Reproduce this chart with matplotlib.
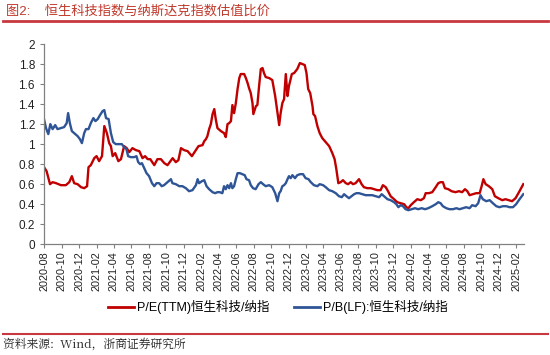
import numpy as np
import pandas as pd
import matplotlib
matplotlib.use('Agg')
import matplotlib.pyplot as plt
from matplotlib.lines import Line2D

plt.rcParams['font.family'] = ['Liberation Sans', 'Noto Sans CJK SC']
plt.rcParams['axes.unicode_minus'] = False

# Data (days since 2020-08-01, ratio)
Start_Date = '2020-08-01'

pe_days = [0, 9, 21, 30, 42, 59, 76, 88, 97, 105, 117, 129, 140, 150, 155, 163, 175, 183,
           192, 202, 210, 219, 227, 233, 239, 248, 259, 268, 279, 288, 297, 308, 320, 332,
           343, 352, 361, 370, 384, 395, 407, 419, 430, 448, 459, 468, 477, 488, 500, 515,
           529, 538, 552, 558, 564, 569, 575, 581, 587, 593, 598, 604, 616, 627, 633, 639,
           645, 651, 656, 662, 668, 674, 680, 685, 697, 703, 709, 714, 720, 726, 729, 738,
           743, 749, 755, 761, 766, 772, 784, 795, 805, 813, 819, 824, 830, 836, 842, 848,
           853, 863, 871, 882, 891, 900, 908, 914, 920, 927, 935, 938, 944, 952, 960, 969,
           981, 993, 1004, 1012, 1018, 1025, 1033, 1041, 1051, 1059, 1068, 1076, 1085, 1097,
           1106, 1114, 1126, 1138, 1149, 1161, 1172, 1180, 1190, 1198, 1207, 1219, 1230,
           1242, 1254, 1262, 1269, 1277, 1288, 1300, 1312, 1323, 1329, 1340, 1352, 1364,
           1373, 1381, 1389, 1396, 1408, 1419, 1433, 1445, 1456, 1466, 1474, 1482, 1494,
           1505, 1517, 1524, 1530, 1538, 1549, 1561, 1570, 1582, 1596, 1607, 1619, 1630,
           1642, 1654, 1669]
pe_ratio = [0.77, 0.73, 0.60, 0.62, 0.61, 0.59, 0.59, 0.62, 0.68, 0.61, 0.60, 0.57, 0.56,
            0.58, 0.77, 0.79, 0.86, 0.88, 0.83, 0.88, 1.18, 1.11, 1.01, 0.98, 0.88, 0.91,
            0.83, 0.85, 0.98, 0.96, 0.92, 0.96, 0.94, 0.93, 0.86, 0.88, 0.85, 0.85, 0.79,
            0.85, 0.85, 0.81, 0.79, 0.86, 0.82, 0.84, 0.96, 0.94, 0.93, 0.88, 0.94, 0.98,
            0.99, 1.03, 1.05, 1.08, 1.15, 1.20, 1.30, 1.35, 1.25, 1.16, 1.13, 1.11, 1.07,
            1.20, 1.21, 1.23, 1.39, 1.31, 1.41, 1.55, 1.66, 1.70, 1.70, 1.66, 1.61, 1.56,
            1.51, 1.41, 1.30, 1.38, 1.39, 1.58, 1.75, 1.76, 1.71, 1.67, 1.66, 1.64, 1.48,
            1.31, 1.19, 1.31, 1.41, 1.45, 1.70, 1.48, 1.58, 1.70, 1.71, 1.75, 1.81, 1.80,
            1.79, 1.71, 1.55, 1.51, 1.38, 1.30, 1.28, 1.18, 1.11, 1.06, 1.02, 0.98, 0.91,
            0.85, 0.75, 0.61, 0.62, 0.64, 0.61, 0.60, 0.62, 0.60, 0.61, 0.65, 0.60, 0.57,
            0.56, 0.56, 0.55, 0.54, 0.54, 0.59, 0.57, 0.53, 0.48, 0.45, 0.42, 0.41, 0.40,
            0.37, 0.36, 0.39, 0.42, 0.45, 0.44, 0.46, 0.51, 0.51, 0.52, 0.57, 0.61, 0.62,
            0.62, 0.56, 0.55, 0.53, 0.52, 0.53, 0.52, 0.55, 0.53, 0.49, 0.50, 0.51, 0.51,
            0.58, 0.65, 0.60, 0.58, 0.55, 0.48, 0.46, 0.44, 0.45, 0.44, 0.43, 0.46, 0.52,
            0.60]

pb_days = [0, 7, 15, 22, 30, 39, 47, 59, 70, 79, 84, 90, 97, 105, 117, 125, 132, 140, 146,
           155, 163, 172, 179, 187, 195, 204, 210, 216, 225, 233, 241, 250, 262, 271, 279,
           287, 293, 302, 314, 322, 328, 335, 341, 349, 357, 366, 376, 384, 392, 401, 410,
           418, 430, 442, 447, 459, 471, 482, 494, 505, 517, 529, 535, 540, 550, 558, 566,
           575, 587, 596, 604, 612, 621, 627, 633, 639, 645, 651, 656, 662, 668, 674, 682,
           691, 699, 705, 714, 720, 728, 737, 747, 755, 763, 772, 784, 795, 805, 813, 819,
           824, 830, 836, 842, 848, 853, 859, 865, 874, 882, 892, 902, 911, 921, 929, 940,
           952, 960, 972, 981, 993, 1004, 1016, 1027, 1037, 1045, 1053, 1062, 1071, 1080,
           1088, 1097, 1109, 1120, 1132, 1143, 1155, 1167, 1176, 1184, 1196, 1207, 1219,
           1227, 1234, 1242, 1250, 1259, 1269, 1280, 1292, 1303, 1315, 1327, 1338, 1352,
           1364, 1373, 1381, 1389, 1401, 1412, 1424, 1436, 1447, 1459, 1470, 1482, 1491,
           1503, 1512, 1520, 1528, 1540, 1552, 1563, 1575, 1586, 1598, 1610, 1621, 1633,
           1644, 1656, 1669]
pb_ratio = [1.25, 1.16, 1.10, 1.20, 1.15, 1.19, 1.15, 1.16, 1.17, 1.21, 1.31, 1.21, 1.13,
            1.11, 1.08, 1.05, 1.01, 1.11, 1.15, 1.15, 1.21, 1.26, 1.23, 1.25, 1.29, 1.33,
            1.34, 1.26, 1.25, 1.11, 1.02, 1.00, 1.00, 1.00, 0.97, 0.95, 0.88, 0.87, 0.87,
            0.88, 0.82, 0.80, 0.81, 0.76, 0.71, 0.68, 0.61, 0.58, 0.61, 0.61, 0.58, 0.59,
            0.62, 0.65, 0.61, 0.60, 0.58, 0.58, 0.56, 0.53, 0.54, 0.59, 0.65, 0.61, 0.63,
            0.64, 0.58, 0.55, 0.52, 0.51, 0.52, 0.52, 0.51, 0.58, 0.55, 0.59, 0.56, 0.61,
            0.56, 0.58, 0.65, 0.71, 0.71, 0.70, 0.69, 0.65, 0.64, 0.59, 0.56, 0.55, 0.60,
            0.62, 0.60, 0.58, 0.59, 0.57, 0.51, 0.43, 0.51, 0.53, 0.58, 0.59, 0.61, 0.65,
            0.68, 0.66, 0.69, 0.66, 0.69, 0.70, 0.70, 0.66, 0.65, 0.62, 0.59, 0.58, 0.60,
            0.59, 0.57, 0.54, 0.53, 0.51, 0.48, 0.47, 0.50, 0.48, 0.46, 0.48, 0.50, 0.51,
            0.51, 0.50, 0.49, 0.49, 0.49, 0.48, 0.47, 0.50, 0.48, 0.45, 0.44, 0.42, 0.40,
            0.37, 0.39, 0.38, 0.35, 0.34, 0.35, 0.36, 0.35, 0.36, 0.35, 0.36, 0.38, 0.40,
            0.42, 0.41, 0.38, 0.36, 0.35, 0.35, 0.36, 0.35, 0.36, 0.37, 0.36, 0.39, 0.38,
            0.41, 0.49, 0.45, 0.43, 0.44, 0.41, 0.38, 0.37, 0.38, 0.38, 0.37, 0.37, 0.40,
            0.45, 0.50]

pe_label = 'P/E(TTM)恒生科技/纳指'
pb_label = 'P/B(LF):恒生科技/纳指'
title_text = '图2:    恒生科技指数与纳斯达克指数估值比价'
source_text = '资料来源:  Wind，浙商证券研究所'

# Colours
Red = '#C00000'
Blue = '#2F5597'
Rule_Red = '#C8383F'

start = pd.Timestamp(Start_Date)
pe_dates = start + pd.to_timedelta(pe_days, unit='D')
pb_dates = start + pd.to_timedelta(pb_days, unit='D')

figure = plt.figure(figsize=(5.5, 3.55), dpi=100)
axes = figure.add_axes([0.08, 0.312, 0.873, 0.564])

axes.plot(pe_dates, pe_ratio, color=Red, linewidth=1.7)
axes.plot(pb_dates, pb_ratio, color=Blue, linewidth=1.7)

axes.set_ylim(0, 2)
axes.set_yticks(np.arange(0, 2.01, 0.2))
axes.set_yticklabels(['0', '0.2', '0.4', '0.6', '0.8', '1', '1.2', '1.4', '1.6', '1.8', '2'])
axes.set_xlim(pe_dates[0], pe_dates[-1] + pd.Timedelta(days=3))

tick_months = pd.date_range('2020-08-01', '2025-02-01', freq='2MS')
axes.set_xticks(tick_months)
axes.set_xticklabels([d.strftime('%Y-%m') for d in tick_months], rotation=90)

for side in ['top', 'right']:
    axes.spines[side].set_visible(False)
for side in ['left', 'bottom']:
    axes.spines[side].set_color('#808080')
    axes.spines[side].set_linewidth(0.9)

axes.tick_params(axis='both', direction='out', color='#808080', length=3, labelsize=8.5,
                 labelcolor='#222222')
axes.tick_params(axis='x', pad=2, labelsize=7.8)

handles = [Line2D([], [], color=Red, linewidth=2),
           Line2D([], [], color=Blue, linewidth=2)]
figure.legend(handles, [pe_label, pb_label], loc='center', bbox_to_anchor=(0.505, 0.135),
              ncol=2, frameon=False, fontsize=9, handlelength=2.1, handletextpad=0.2,
              columnspacing=2.0)

# Title and source
figure.text(0.01, 0.968, title_text, color='#C0392B', fontsize=9.5, va='center', ha='left')
figure.add_artist(Line2D([0.006, 0.996], [0.94, 0.94], color=Rule_Red, linewidth=2,
                         transform=figure.transFigure))
figure.add_artist(Line2D([0.006, 0.996], [0.058, 0.058], color=Rule_Red, linewidth=1.5,
                         transform=figure.transFigure))
figure.text(0.006, 0.029, source_text, color='#222222', fontsize=8.5, va='center',
            ha='left', family=['Noto Serif CJK SC', 'Noto Sans CJK SC', 'DejaVu Sans'])

figure.savefig('out.png', dpi=100)
